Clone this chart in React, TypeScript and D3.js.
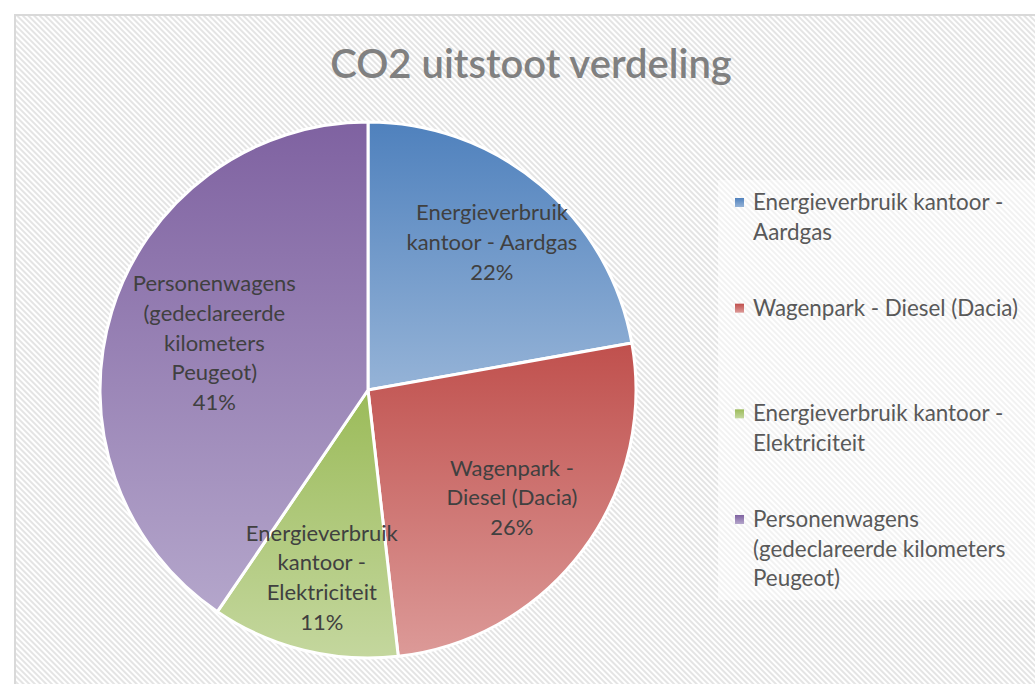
import { useEffect, useRef } from "react";
import * as d3 from "d3";

const categories = [
  "Energieverbruik kantoor - Aardgas",
  "Wagenpark - Diesel (Dacia)",
  "Energieverbruik kantoor - Elektriciteit",
  "Personenwagens (gedeclareerde kilometers Peugeot)",
];
// shares in percent
const values = [22.2, 26.0, 11.3, 40.5];
const sliceLabels = [
  ["Energieverbruik", "kantoor - Aardgas"],
  ["Wagenpark -", "Diesel (Dacia)"],
  ["Energieverbruik", "kantoor -", "Elektriciteit"],
  ["Personenwagens", "(gedeclareerde", "kilometers", "Peugeot)"],
];
const legendLines = [
  ["Energieverbruik kantoor -", "Aardgas"],
  ["Wagenpark - Diesel (Dacia)"],
  ["Energieverbruik kantoor -", "Elektriciteit"],
  ["Personenwagens", "(gedeclareerde kilometers", "Peugeot)"],
];
const title = "CO2 uitstoot verdeling";

// dark (top) / light (bottom) gradient stops per slice
const darkColors = ["#4f81bd", "#c0504d", "#9bbb59", "#7f62a1"];
const lightColors = ["#95b3d7", "#dc9a98", "#c4d79e", "#b4a6cb"];
// label distance from centre, as a fraction of the radius
const labelRadius = [0.72, 0.67, 0.72, 0.6];

const W = 1035;
const H = 684;
const FONT = "Lato, 'Noto Sans', sans-serif";

export default function App() {
  const svgRef = useRef<SVGSVGElement>(null);

  useEffect(() => {
    if (!svgRef.current) return;
    const svg = d3.select(svgRef.current);
    svg.selectAll("*").remove();

    const defs = svg.append("defs");
    const pat = defs
      .append("pattern")
      .attr("id", "hatch")
      .attr("patternUnits", "userSpaceOnUse")
      .attr("width", 4)
      .attr("height", 4)
      .attr("patternTransform", "rotate(-45)");
    pat.append("rect").attr("width", 4).attr("height", 4).attr("fill", "#ffffff");
    pat.append("rect").attr("width", 2).attr("height", 4).attr("fill", "#e4e4e4");

    categories.forEach((_, i) => {
      const g = defs
        .append("linearGradient")
        .attr("id", "grad" + i)
        .attr("x1", 0)
        .attr("y1", 0)
        .attr("x2", 0)
        .attr("y2", 1);
      g.append("stop").attr("offset", "0%").attr("stop-color", darkColors[i]);
      g.append("stop").attr("offset", "100%").attr("stop-color", lightColors[i]);
    });

    // chart area
    svg.append("rect").attr("width", W).attr("height", H).attr("fill", "#ffffff");
    svg
      .append("rect")
      .attr("x", 15)
      .attr("y", 15)
      .attr("width", W)
      .attr("height", H)
      .attr("fill", "url(#hatch)")
      .attr("stroke", "#d9d9d9")
      .attr("stroke-width", 2);

    svg
      .append("text")
      .attr("x", 531)
      .attr("y", 78)
      .attr("text-anchor", "middle")
      .attr("font-family", FONT)
      .attr("font-size", 40)
      .attr("font-weight", 600)
      .attr("fill", "#808080")
      .text(title);

    // pie
    const cx = 368;
    const cy = 390;
    const r = 268;
    const pie = d3.pie<number>().sort(null).value((d) => d);
    const arcs = pie(values);
    const arc = d3.arc<d3.PieArcDatum<number>>().innerRadius(0).outerRadius(r);
    const total = d3.sum(values);
    const pct = d3.format(".0%");

    const pg = svg.append("g").attr("transform", `translate(${cx},${cy})`);
    pg.selectAll("path")
      .data(arcs)
      .join("path")
      .attr("d", arc)
      .attr("fill", (_, i) => `url(#grad${i})`)
      .attr("stroke", "#ffffff")
      .attr("stroke-width", 3)
      .attr("stroke-linejoin", "round");

    const lh = 29.7;
    arcs.forEach((a, i) => {
      const mid = (a.startAngle + a.endAngle) / 2;
      const lr = r * labelRadius[i];
      const x = Math.sin(mid) * lr;
      const y = -Math.cos(mid) * lr;
      const lines = [...sliceLabels[i], pct(values[i] / total)];
      const t = pg
        .append("text")
        .attr("text-anchor", "middle")
        .attr("font-family", FONT)
        .attr("font-size", 22)
        .attr("fill", "#404040");
      const y0 = y - ((lines.length - 1) * lh) / 2 + 8;
      lines.forEach((l, j) => {
        t.append("tspan").attr("x", x).attr("y", y0 + j * lh).text(l);
      });
    });

    // legend
    const lg = svg.append("g");
    lg.append("rect")
      .attr("x", 718)
      .attr("y", 180)
      .attr("width", W - 718)
      .attr("height", 420)
      .attr("fill", "#ffffff")
      .attr("opacity", 0.5);
    const ly = d3.scaleLinear().domain([0, 3]).range([202, 519]);
    legendLines.forEach((lines, i) => {
      const y = ly(i);
      lg.append("rect")
        .attr("x", 735)
        .attr("y", y - 4)
        .attr("width", 9)
        .attr("height", 9)
        .attr("fill", `url(#grad${i})`);
      const t = lg
        .append("text")
        .attr("font-family", FONT)
        .attr("font-size", 22.4)
        .attr("fill", "#595959");
      lines.forEach((l, j) => {
        t.append("tspan").attr("x", 753).attr("y", y + 8 + j * 29.5).text(l);
      });
    });
  }, []);

  return (
    <svg
      ref={svgRef}
      width={W}
      height={H}
      style={{ position: "absolute", left: 0, top: 0, display: "block" }}
    />
  );
}
